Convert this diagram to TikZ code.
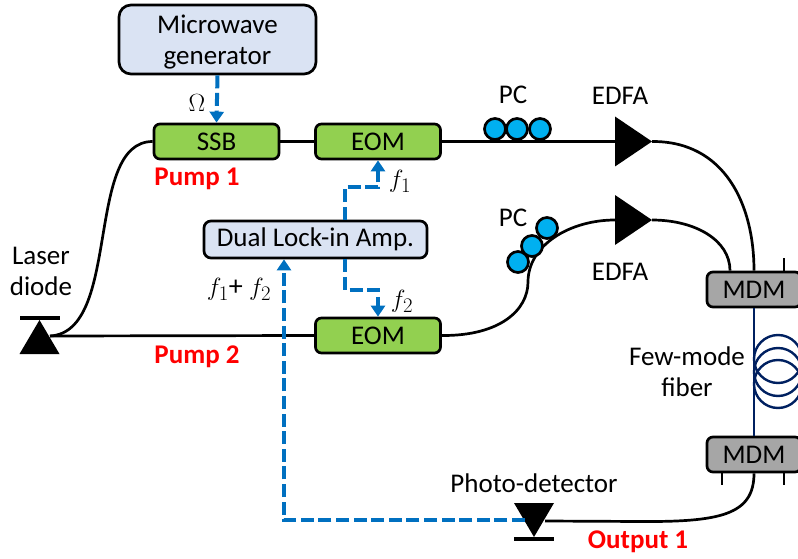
\documentclass[tikz,border=0pt]{standalone}
\usepackage{fontspec}
\setmainfont{Carlito}
\usetikzlibrary{shapes.geometric,arrows.meta}
\definecolor{boxblue}{HTML}{DAE3F3}
\definecolor{boxgreen}{HTML}{92D050}
\definecolor{boxgray}{HTML}{A6A6A6}
\definecolor{pccyan}{HTML}{00B0F0}
\definecolor{sigblue}{HTML}{0070C0}
\definecolor{fibernavy}{HTML}{002060}
\tikzset{
  txt/.style={inner sep=0pt,font=\fontsize{27}{31}\selectfont,align=center},
  redlab/.style={inner sep=0pt,font=\fontsize{27}{31}\selectfont\bfseries,text=red},
  mathlab/.style={inner sep=0pt,font=\fontsize{28}{32}\selectfont},
  bluebox/.style={draw=black,line width=2.7pt,fill=boxblue,align=center,inner sep=0pt,font=\fontsize{27}{31}\selectfont},
  greenbox/.style={draw=black,line width=2.7pt,fill=boxgreen,rounded corners=6pt,minimum width=125pt,minimum height=35pt,inner sep=0pt,font=\fontsize{27}{31}\selectfont},
  mdmbox/.style={draw=black,line width=2.7pt,fill=boxgray,rounded corners=6pt,minimum width=94pt,inner sep=0pt,font=\fontsize{27}{31}\selectfont},
  pcdisc/.style={circle,draw=black,line width=2.7pt,fill=pccyan,minimum size=21pt,inner sep=0pt},
  fib/.style={draw=black,line width=2.7pt},
  navy/.style={draw=fibernavy,line width=2.4pt},
  sig/.style={draw=sigblue,line width=4pt,dash pattern=on 13pt off 4.6pt,-{Triangle[length=11pt,width=14pt]}},
  amp/.style={isosceles triangle,isosceles triangle apex angle=68,isosceles triangle stretches,minimum width=50pt,minimum height=37pt,fill=black,inner sep=0pt,outer sep=0pt},
  diode/.style={isosceles triangle,isosceles triangle apex angle=64,isosceles triangle stretches,minimum width=40pt,minimum height=34pt,fill=black,inner sep=0pt,outer sep=0pt},
  barnode/.style={fill=black,minimum width=40pt,minimum height=4pt,inner sep=0pt,outer sep=0pt},
}
\begin{document}
\begin{tikzpicture}[x=1pt,y=-1pt]
\useasboundingbox (0,0) rectangle (798,559);
\clip (0,0) rectangle (798,559);
% boxes
\node[bluebox,rounded corners=12pt,minimum width=197pt,minimum height=69pt] (mw) at (217.5,39.5) {\rule{0pt}{24pt}Microwave\\generator};
\node[greenbox] (ssb) at (216.5,141.5) {SSB};
\node[greenbox] (eoma) at (378,141.5) {EOM};
\node[bluebox,rounded corners=7pt,minimum width=223pt,minimum height=37pt] (dual) at (315.5,239.5) {Dual Lock-in Amp.};
\node[greenbox] (eomb) at (378,335.5) {EOM};
\node[mdmbox,minimum height=35pt] (mdma) at (754,289.5) {MDM};
\node[mdmbox,minimum height=35pt] (mdmb) at (754,454.5) {MDM};
% free coordinates
\coordinate (lasertap) at (50,336);
\coordinate (sx) at (345,0);
\coordinate (fx) at (284,0);
\coordinate (ax) at (730,0);
\coordinate (ex) at (784,0);
\coordinate (wx) at (722,0);
\coordinate (stubt) at (784,258);
\coordinate (stubl) at (722,485);
\coordinate (stubr) at (784,485);
\coordinate (pdtap) at (545,521);
\coordinate (pdin) at (525,520);
\coordinate (ka) at (345,187);
\coordinate (kb) at (345,290);
\coordinate (fcorner) at (284,520);
% amplifiers and diodes
\node[amp,anchor=apex,shape border rotate=0] (edfaa) at (652,141.5) {};
\node[amp,anchor=apex,shape border rotate=0] (edfab) at (652,220) {};
\node[diode,anchor=apex,shape border rotate=90] (laser) at (39.5,320) {};
\node[barnode] (laserbar) at (39.5,318) {};
\node[diode,anchor=apex,shape border rotate=-90] (pd) at (534,537) {};
\node[barnode] (pdbar) at (534,539) {};
% fibres
\draw[fib] (lasertap) -- (eomb.west);
\draw[fib] (lasertap) .. controls (122,332) and (84,141.5) .. (ssb.west);
\draw[fib] (ssb.east) -- (eoma.west);
\draw[fib] (eoma.east) -- (edfaa.west);
\draw[fib] (eomb.east) .. controls (500,336) and (528,310) .. (528,282) .. controls (528,245) and (570,220) .. (edfab.west);
\draw[fib] (edfaa.apex) .. controls (725,141) and (754,205) .. (mdma.north);
\draw[fib] (edfab.apex) .. controls (695,220) and (730,240) .. (mdma.north -| ax);
\draw[fib] (mdma.north -| ex) -- (stubt);
\draw[fib] (mdmb.south -| wx) -- (stubl);
\draw[fib] (mdmb.south -| ex) -- (stubr);
\draw[fib] (pdtap) -- (640,521.5) .. controls (720,522) and (754,515) .. (mdmb.south);
% few-mode fibre
\draw[navy] (mdma.south) -- (mdmb.north);
\node[circle,navy,minimum size=48pt,inner sep=0pt] (coila) at (778,359) {};
\node[circle,navy,minimum size=48pt,inner sep=0pt] (coilb) at (778,372) {};
\node[circle,navy,minimum size=48pt,inner sep=0pt] (coilc) at (778,384) {};
% polarisation controllers
\node[pcdisc] (pa) at (495,129) {};
\node[pcdisc] (pb) at (517,129) {};
\node[pcdisc] (pc) at (540,129) {};
\node[pcdisc] (pd1) at (518,262) {};
\node[pcdisc] (pd2) at (532,246) {};
\node[pcdisc] (pd3) at (547,228) {};
% signals
\draw[sig] (mw.south) -- (ssb.north);
\draw[sig] (dual.north -| sx) -- (ka) -| (eoma.south);
\draw[sig] (dual.south -| sx) -- (kb) -| (eomb.north);
\draw[sig] (pdin) -- (fcorner) -- (dual.south -| fx);
% labels
\node[txt] (lomega) at (197,103) {$\Omega$};
\node[redlab] (lp1) at (197,179) {Pump 1};
\node[redlab] (lp2) at (197,357) {Pump 2};
\node[redlab] (lo1) at (638,542) {Output 1};
\node[txt] (lpca) at (513,95) {PC};
\node[txt] (lpcb) at (513,218) {PC};
\node[txt] (leda) at (620,96) {EDFA};
\node[txt] (ledb) at (620,272) {EDFA};
\node[txt] (llaser) at (41,271) {Laser\\diode};
\node[txt] (lfew) at (687,372) {Few-mode\\fiber};
\node[txt] (lpd) at (534,483) {Photo-detector};
\node[mathlab] (lf1) at (400,181) {$f_1$};
\node[mathlab] (lf2) at (402,301) {$f_2$};
\node[mathlab] (lf12) at (239,289) {$f_1$+ $f_2$};
\end{tikzpicture}
\end{document}
